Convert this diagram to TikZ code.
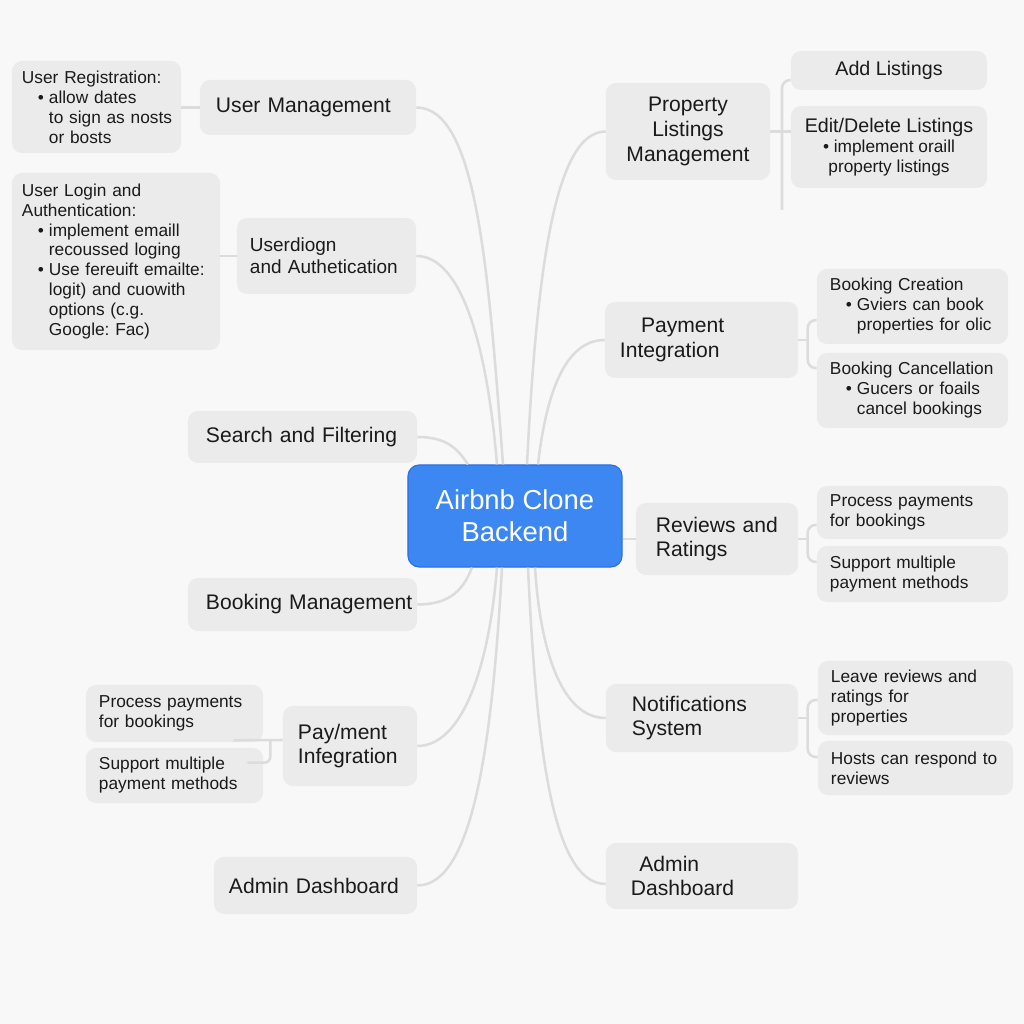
\documentclass[tikz,border=0pt]{standalone}
\usepackage{fontspec}
\setmainfont{Liberation Sans}
\frenchspacing
\definecolor{pagegray}{HTML}{F8F8F8}
\definecolor{boxgray}{HTML}{EBEBEB}
\definecolor{linkgray}{HTML}{DCDCDC}
\definecolor{hubblue}{HTML}{3C87F2}
\definecolor{hubedge}{HTML}{2C6FE6}
\definecolor{inkblack}{HTML}{1A1A1A}
\newcommand{\itembul}{\hspace*{0.92em}\makebox[0.64em][l]{\textbullet}}
\newcommand{\itemgap}{\hspace*{1.56em}}
\begin{document}
\begin{tikzpicture}[x=0.025cm, y=0.025cm,
	link/.style={draw=linkgray, line width=1.8pt},
	hub/.style={draw=hubedge, line width=0.8pt, fill=hubblue, rounded corners=0.28cm, text=white, align=center, font=\fontsize{19.5}{22.7}\selectfont},
	topic/.style={fill=boxgray, rounded corners=0.25cm, text=inkblack, inner xsep=0pt, align=left, font=\fontsize{15}{17.5}\selectfont},
	detail/.style={fill=boxgray, rounded corners=0.25cm, text=inkblack, inner xsep=0pt, align=left, font=\fontsize{12.3}{14.2}\selectfont}]
	\useasboundingbox (0,0) rectangle (1024,1024);
	\fill[pagegray] (0,0) rectangle (1024,1024);

	\node[hub, minimum width=5.35cm, minimum height=2.55cm] (hub) at (515,508) {Airbnb Clone\\Backend};

	\node[topic, minimum width=5.4cm, minimum height=1.375cm, text width=4.6cm] (um) at (308,916.5) {User Management};
	\node[detail, minimum width=4.225cm, minimum height=2.3cm, text width=3.725cm] (reg) at (96.5,917) {User Registration:\\\itembul allow dates\\\itemgap\mbox{to sign as nosts}\\\itemgap or bosts};
	\node[detail, minimum width=5.2cm, minimum height=4.425cm, text width=4.7cm] (login) at (116,762.5) {User Login and\\Authentication:\\\itembul implement emaill\\\itemgap recoussed loging\\\itembul\mbox{Use fereuift emailte:}\\\itemgap logit) and cuowith\\\itemgap options (c.g.\\\itemgap Google: Fac)};
	\node[topic, minimum width=4.475cm, minimum height=1.9cm, text width=3.825cm, font=\fontsize{13.5}{15.6}\selectfont] (auth) at (326.5,768) {Userdiogn\\and Authetication};
	\node[topic, minimum width=5.725cm, minimum height=1.3cm, text width=4.825cm] (search) at (302.5,587) {\mbox{Search and Filtering}};
	\node[topic, minimum width=5.725cm, minimum height=1.325cm, text width=4.825cm] (booking) at (302.5,419.5) {\mbox{Booking Management}};
	\node[topic, minimum width=3.35cm, minimum height=2cm, text width=2.6cm] (payL) at (350,278) {Pay/ment\\Infegration};
	\node[detail, minimum width=4.425cm, minimum height=1.425cm, text width=3.775cm] (procL) at (174.5,310.5) {Process payments\\for bookings};
	\node[detail, minimum width=4.425cm, minimum height=1.375cm, text width=3.775cm] (suppL) at (174.5,248.5) {Support multiple\\payment methods};
	\node[topic, minimum width=5.075cm, minimum height=1.425cm, text width=4.325cm] (adminL) at (315.5,138.5) {\mbox{Admin Dashboard}};

	\node[topic, minimum width=4.1cm, minimum height=2.425cm, align=center] (prop) at (688,892.5) {Property\\Listings\\Management};
	\node[topic, minimum width=4.9cm, minimum height=0.975cm, align=center, font=\fontsize{14}{16}\selectfont] (add) at (889,953.5) {Add Listings};
	\node[detail, minimum width=4.9cm, minimum height=2.05cm, align=center, font=\fontsize{14}{14.2}\selectfont] (edit) at (889,877) {Edit/Delete Listings\\{\fontsize{12.3}{14.2}\selectfont\textbullet\ implement oraill}\\{\fontsize{12.3}{14.2}\selectfont property listings}};
	\node[topic, minimum width=4.825cm, minimum height=1.9cm, text width=4.075cm] (payR) at (701.5,684) {\hspace*{1em}Payment\\Integration};
	\node[detail, minimum width=4.775cm, minimum height=1.875cm, text width=4.125cm] (bcreate) at (912.5,717.5) {Booking Creation\\\itembul Gviers can book\\\itemgap\mbox{properties for olic}};
	\node[detail, minimum width=4.775cm, minimum height=1.875cm, text width=4.125cm] (bcancel) at (912.5,633.5) {\mbox{Booking Cancellation}\\\itembul Gucers or foails\\\itemgap cancel bookings};
	\node[topic, minimum width=4.05cm, minimum height=1.8cm, text width=3.05cm] (reviews) at (717,485) {\mbox{Reviews and}\\Ratings};
	\node[detail, minimum width=4.775cm, minimum height=1.325cm, text width=4.125cm] (procR) at (912.5,511.5) {Process payments\\for bookings};
	\node[detail, minimum width=4.775cm, minimum height=1.4cm, text width=4.125cm] (suppR) at (912.5,450) {Support multiple\\payment methods};
	\node[topic, minimum width=4.8cm, minimum height=1.7cm, text width=3.5cm] (notif) at (702,306) {Notifications\\System};
	\node[detail, minimum width=4.875cm, minimum height=1.85cm, text width=4.225cm] (leave) at (915.5,326) {Leave reviews and\\ratings for\\properties};
	\node[detail, minimum width=4.875cm, minimum height=1.35cm, text width=4.225cm] (hosts) at (915.5,256) {\mbox{Hosts can respond to}\\reviews};
	\node[topic, minimum width=4.8cm, minimum height=1.65cm, text width=3.55cm] (adminR) at (702,148) {\hspace*{0.4em}Admin\\Dashboard};
	\coordinate (propend) at (782,814);

	\draw[link] (um.east) .. controls +(60,0) and +(-15,200) .. ([xshift=-0.3cm]hub.north);
	\draw[link] (auth.east) .. controls +(45,0) and +(-10,120) .. ([xshift=-0.45cm]hub.north);
	\draw[link] (search.east) .. controls +(30,0) and +(-10,15) .. ([xshift=-1.175cm]hub.north);
	\draw[link] (prop.west) .. controls +(-50,0) and +(10,200) .. ([xshift=0.3cm]hub.north);
	\draw[link] (payR.west) .. controls +(-40,0) and +(8,70) .. ([xshift=0.575cm]hub.north);
	\draw[link] (booking.east) .. controls +(35,0) and +(-8,-20) .. ([xshift=-1.075cm]hub.south);
	\draw[link] (payL.east) .. controls +(45,0) and +(-8,-100) .. ([xshift=-0.45cm]hub.south);
	\draw[link] (adminL.east) .. controls +(55,0) and +(-10,-180) .. ([xshift=-0.325cm]hub.south);
	\draw[link] (notif.west) .. controls +(-45,0) and +(5,-80) .. ([xshift=0.5cm]hub.south);
	\draw[link] ([yshift=-0.2cm]adminR.west) .. controls +(-55,0) and +(8,-170) .. ([xshift=0.325cm]hub.south);
	\draw[link] (reviews.west -| hub.east) -- (reviews.west);

	\draw[link] (um.west -| reg.east) -- (um.west);
	\draw[link] (auth.west -| login.east) -- (auth.west);

	\draw[link] (prop.east) -- (prop.east -| edit.west);
	\draw[link, rounded corners=0.2cm] ([yshift=-0.24cm]add.west) -| (propend);

	\draw[link] (payR.east) -- ([xshift=-0.225cm]bcreate.west |- payR.east);
	\draw[link, rounded corners=0.2cm] ([yshift=-0.34cm]bcreate.west) -| ([xshift=-0.225cm,yshift=0.56cm]bcancel.west) -- ([yshift=0.56cm]bcancel.west);

	\draw[link] (reviews.east) -- ([xshift=-0.225cm]procR.west |- reviews.east);
	\draw[link, rounded corners=0.2cm] ([yshift=-0.31cm]procR.west) -| ([xshift=-0.225cm,yshift=0.3cm]suppR.west) -- ([yshift=0.3cm]suppR.west);

	\draw[link] (notif.east) -- ([xshift=-0.25cm]leave.west |- notif.east);
	\draw[link, rounded corners=0.2cm] ([yshift=-0.05cm]leave.west) -| ([xshift=-0.25cm,yshift=0.275cm]hosts.west) -- ([yshift=0.275cm]hosts.west);

	\draw[link] ([yshift=0.15cm]payL.west) -- ([xshift=-0.75cm,yshift=0.05cm]procL.south east);
	\draw[link, rounded corners=0.15cm] ([xshift=0.175cm,yshift=0.05cm]procL.south east) |- ([xshift=-0.4cm,yshift=-0.375cm]suppL.north east);
\end{tikzpicture}
\end{document}
